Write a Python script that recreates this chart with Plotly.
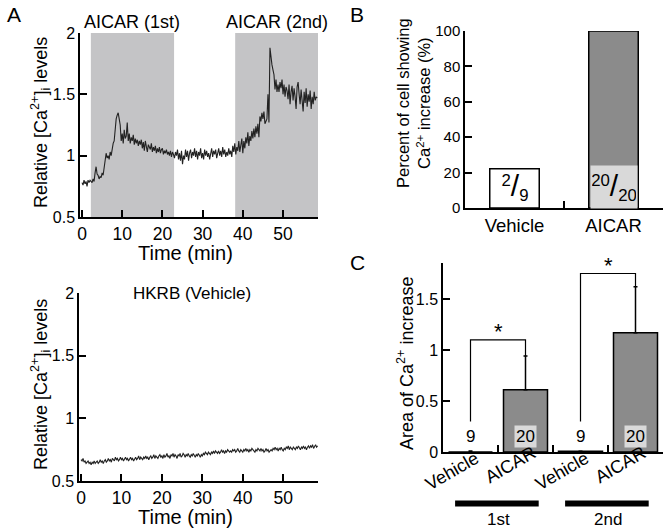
import plotly.graph_objects as go

# ---- data -----------------------------------------------------------------
SAMPLE_STEP = 0.25  # min between samples

ca_aicar = [
    0.78, 0.76, 0.80, 0.77, 0.79, 0.75, 0.80, 0.78, 0.80, 0.79, 0.78, 0.81,
    0.79, 0.86, 0.91, 0.85, 0.84, 0.81, 0.83, 0.82, 0.86, 0.84, 0.90, 0.95,
    1.02, 0.98, 1.00, 0.97, 1.03, 1.00, 1.06, 1.10, 1.12, 1.22, 1.30, 1.33,
    1.35, 1.30, 1.25, 1.12, 1.18, 1.10, 1.21, 1.14, 1.16, 1.27, 1.12, 1.18,
    1.10, 1.15, 1.12, 1.17, 1.09, 1.14, 1.10, 1.13, 1.08, 1.12, 1.09, 1.13,
    1.06, 1.11, 1.04, 1.12, 1.08, 1.03, 1.09, 1.06, 1.05, 1.10, 1.03, 1.07,
    1.04, 1.08, 1.02, 1.06, 1.03, 1.07, 1.02, 1.05, 1.06, 1.01, 1.04, 1.02,
    1.05, 1.01, 1.03, 1.00, 1.04, 0.99, 1.03, 1.01, 0.98, 1.03, 1.00, 1.05,
    0.97, 1.02, 0.96, 1.04, 0.93, 1.00, 0.97, 1.05, 0.99, 1.04, 0.96, 1.02,
    1.05, 0.98, 1.03, 1.00, 1.06, 0.99, 1.04, 0.97, 1.03, 1.00, 1.06, 0.98,
    1.02, 0.97, 1.05, 1.00, 1.04, 0.99, 1.02, 0.97, 1.03, 1.06, 0.99, 1.04,
    1.01, 1.05, 0.98, 1.02, 1.06, 1.00, 1.04, 0.99, 1.07, 1.01, 1.05, 0.99,
    1.03, 1.00, 1.06, 1.01, 1.04, 0.99, 1.08, 1.03, 1.10, 1.01, 1.07, 1.04,
    1.12, 1.03, 1.09, 1.14, 1.02, 1.12, 1.06, 1.15, 1.10, 1.19, 1.08, 1.16,
    1.12, 1.20, 1.14, 1.22, 1.15, 1.24, 1.18, 1.26, 1.15, 1.32, 1.28, 1.35,
    1.30, 1.36, 1.26, 1.28, 1.30, 1.50, 1.27, 1.88, 1.78, 1.74, 1.70, 1.66,
    1.54, 1.62, 1.52, 1.58, 1.52, 1.60, 1.55, 1.62, 1.50, 1.58, 1.48, 1.56,
    1.53, 1.46, 1.58, 1.42, 1.52, 1.57, 1.45, 1.55, 1.48, 1.38, 1.56, 1.60,
    1.50, 1.42, 1.54, 1.46, 1.36, 1.52, 1.43, 1.55, 1.40, 1.50, 1.44, 1.53,
    1.38, 1.48, 1.42, 1.52, 1.45, 1.48, 1.47,
]

ca_vehicle = [
    0.67, 0.66, 0.68, 0.65, 0.66, 0.64, 0.65, 0.66, 0.64, 0.65, 0.63, 0.65,
    0.64, 0.66, 0.64, 0.65, 0.66, 0.64, 0.65, 0.67, 0.65, 0.66, 0.64, 0.66,
    0.67, 0.65, 0.66, 0.68, 0.66, 0.67, 0.65, 0.68, 0.67, 0.66, 0.69, 0.67,
    0.68, 0.66, 0.67, 0.69, 0.67, 0.68, 0.66, 0.68, 0.69, 0.67, 0.68, 0.66,
    0.68, 0.69, 0.67, 0.68, 0.66, 0.68, 0.69, 0.67, 0.68, 0.70, 0.67, 0.69,
    0.68, 0.67, 0.69, 0.68, 0.70, 0.68, 0.69, 0.67, 0.69, 0.70, 0.68, 0.69,
    0.71, 0.68, 0.70, 0.69, 0.68, 0.70, 0.71, 0.69, 0.70, 0.68, 0.71, 0.69,
    0.70, 0.72, 0.69, 0.70, 0.68, 0.71, 0.70, 0.72, 0.69, 0.71, 0.70, 0.68,
    0.71, 0.70, 0.72, 0.69, 0.70, 0.72, 0.71, 0.69, 0.71, 0.70, 0.72, 0.70,
    0.69, 0.71, 0.70, 0.72, 0.70, 0.69, 0.71, 0.70, 0.72, 0.70, 0.69, 0.71,
    0.70, 0.72, 0.71, 0.73, 0.72, 0.71, 0.73, 0.72, 0.71, 0.73, 0.72, 0.74,
    0.72, 0.74, 0.73, 0.72, 0.74, 0.72, 0.73, 0.75, 0.73, 0.74, 0.72, 0.74,
    0.73, 0.75, 0.74, 0.73, 0.74, 0.73, 0.75, 0.74, 0.75, 0.73, 0.74, 0.76,
    0.74, 0.73, 0.75, 0.74, 0.73, 0.75, 0.74, 0.76, 0.74, 0.75, 0.73, 0.75,
    0.74, 0.76, 0.75, 0.74, 0.73, 0.75, 0.74, 0.76, 0.75, 0.74, 0.76, 0.74,
    0.75, 0.73, 0.74, 0.76, 0.74, 0.75, 0.73, 0.74, 0.75, 0.74, 0.76, 0.75,
    0.77, 0.75, 0.76, 0.74, 0.76, 0.75, 0.77, 0.75, 0.74, 0.76, 0.75, 0.77,
    0.76, 0.78, 0.75, 0.77, 0.76, 0.75, 0.77, 0.76, 0.75, 0.77, 0.76, 0.78,
    0.76, 0.75, 0.77, 0.76, 0.78, 0.76, 0.77, 0.75, 0.77, 0.78, 0.76, 0.78,
    0.77, 0.79, 0.76, 0.78, 0.79, 0.77, 0.78,
]

aicar_windows = [(2.2, 22.9), (38.1, 58.8)]
aicar_window_labels = ["AICAR (1st)", "AICAR (2nd)"]

resp_groups = ["Vehicle", "AICAR"]
resp_pct = [2 / 9 * 100, 100]
resp_num = ["2", "20"]
resp_den = ["9", "20"]

area_groups = ["Vehicle", "AICAR", "Vehicle", "AICAR"]
area_mean = [0.0, 0.61, 0.008, 1.17]
area_sem = [0.01, 0.33, 0.0, 0.45]
area_n = ["9", "20", "9", "20"]
periods = ["1st", "2nd"]
bracket_top = [1.10, 1.75]

t_aicar = [i * SAMPLE_STEP for i in range(len(ca_aicar))]
t_vehicle = [i * SAMPLE_STEP for i in range(len(ca_vehicle))]

# ---- style helpers --------------------------------------------------------
W, H = 665, 529
FONT = "Liberation Sans, Arial, sans-serif"
SHADE = "#c4c4c6"
BAR_GREY = "#8b8b8b"
BOX_GREY = "#d9d9d9"


def px(x):
    return x / W


def py(y):
    return 1 - y / H


def note(text, x, y, size=16, xref="paper", yref="paper", **kw):
    return dict(text=text, x=x, y=y, xref=xref, yref=yref, showarrow=False,
                xanchor="center", yanchor="middle", font=dict(size=size), **kw)


axis_style = dict(showline=True, linecolor="black", linewidth=1.5,
                  ticks="inside", ticklen=7, tickwidth=1.5, tickcolor="black",
                  showgrid=False, zeroline=False, automargin=False,
                  tickfont=dict(size=16, color="black"))
time_ticks = dict(tickvals=[0, 10, 20, 30, 40, 50], tickfont=dict(size=17.5))
ratio_ticks = dict(tickvals=[0.5, 1, 1.5, 2], ticktext=["0.5", "1", "1.5", "2"])

fig = go.Figure()

# A top
fig.add_trace(go.Scatter(x=t_aicar, y=ca_aicar, mode="lines",
                         line=dict(color="#222", width=1.1),
                         xaxis="x", yaxis="y"))
# A bottom
fig.add_trace(go.Scatter(x=t_vehicle, y=ca_vehicle, mode="lines",
                         line=dict(color="#222", width=1.1),
                         xaxis="x3", yaxis="y3"))
# B
fig.add_trace(go.Bar(x=resp_groups, y=resp_pct, width=0.5,
                     marker=dict(color=["white", BAR_GREY],
                                 line=dict(color="black", width=1.5)),
                     xaxis="x2", yaxis="y2"))
# C
fig.add_trace(go.Bar(x=list(range(len(area_mean))), y=area_mean, width=0.8,
                     marker=dict(color=BAR_GREY,
                                 line=dict(color="black", width=1.5)),
                     error_y=dict(type="data", symmetric=False, array=area_sem,
                                  arrayminus=[0] * len(area_sem),
                                  color="black", thickness=1.5, width=2),
                     xaxis="x4", yaxis="y4"))

shapes = []
annotations = []

for (a, b) in aicar_windows:
    shapes.append(dict(type="rect", xref="x", yref="y domain", x0=a, x1=b,
                       y0=0, y1=1, fillcolor=SHADE, line=dict(width=0),
                       layer="below"))
for lab, (a, b) in zip(aicar_window_labels, aicar_windows):
    annotations.append(note(lab, (a + b) / 2, py(22), size=18, xref="x"))

annotations.append(note("HKRB (Vehicle)", px(192), py(293), size=17))

# axis titles
ytitle_a = "Relative [Ca<sup>2+</sup>]<sub>i</sub> levels"
for yc in (123, 385):
    annotations.append(note(ytitle_a, px(40), py(yc), size=18, textangle=-90))
for yc in (253, 517):
    annotations.append(note("Time (min)", px(186), py(yc), size=20))
annotations.append(note("Percent of cell showing<br>Ca<sup>2+</sup> increase (%)",
                        px(414), py(103), size=16.5, textangle=-90))
annotations.append(note("Area of Ca<sup>2+</sup> increase", px(405), py(364),
                        size=18, textangle=-90))

# panel letters
for letter, (lx, ly) in zip("ABC", [(14, 14), (357, 14), (357, 262)]):
    annotations.append(note(letter, px(lx), py(ly), size=21))

# B fraction labels
for i in range(len(resp_groups)):
    frac = (f"<sup>{resp_num[i]}</sup>"
            f"<span style='font-size:30px'>/</span><sub>{resp_den[i]}</sub>")
    annotations.append(note(frac, resp_groups[i], 12, size=24,
                            xref="x2", yref="y2",
                            bgcolor=BOX_GREY if i == 1 else "rgba(0,0,0,0)",
                            width=44, height=40))

# C n labels, group labels, brackets
for i, n in enumerate(area_n):
    is_aicar = area_groups[i] == "AICAR"
    annotations.append(note(n, i, 0.15, size=17, xref="x4", yref="y4",
                            bgcolor=BOX_GREY if is_aicar else "rgba(0,0,0,0)",
                            borderpad=1))
    annotations.append(note(area_groups[i], i - (0.28 if is_aicar else 0.33),
                            py(465 if is_aicar else 471), xref="x4",
                            size=18, textangle=-30))

for k, period in enumerate(periods):
    v, a = 2 * k, 2 * k + 1
    top = bracket_top[k]
    shapes.append(dict(type="path", xref="x4", yref="y4",
                       path=f"M {v},0.3 L {v},{top} L {a},{top} L {a},{area_mean[a] + area_sem[a]}",
                       line=dict(color="black", width=1.2)))
    annotations.append(note("*", (v + a) / 2, top + 0.08, size=22,
                            xref="x4", yref="y4"))
    shapes.append(dict(type="line", xref="x4", yref="paper",
                       x0=v - 0.28, x1=a + 0.24, y0=py(503.5), y1=py(503.5),
                       line=dict(color="black", width=6)))
    annotations.append(note(period, (v + a) / 2, py(519), size=17, xref="x4"))

fig.update_layout(
    width=W, height=H, margin=dict(l=0, r=0, t=0, b=0),
    paper_bgcolor="white", plot_bgcolor="white", showlegend=False,
    font=dict(family=FONT, color="black"),
    xaxis=dict(axis_style, domain=[px(80), px(318)], range=[-0.5, 58.7],
               anchor="y", **time_ticks),
    yaxis=dict(axis_style, domain=[py(217), py(33)], range=[0.5, 2],
               anchor="x", **ratio_ticks),
    xaxis3=dict(axis_style, domain=[px(79), px(318)], range=[-0.5, 58.6],
                anchor="y3", **time_ticks),
    yaxis3=dict(axis_style, domain=[py(481), py(293)], range=[0.5, 2],
                anchor="x3", **ratio_ticks),
    xaxis2=dict(axis_style, domain=[px(465), px(663)], range=[-0.5, 1.5],
                type="category", tickson="boundaries", anchor="y2",
                tickfont=dict(size=18.5)),
    yaxis2=dict(axis_style, domain=[py(208), py(31)], range=[0, 100],
                tickvals=[0, 20, 40, 60, 80, 100], anchor="x2",
                tickfont=dict(size=15)),
    xaxis4=dict(axis_style, domain=[px(443), px(663)], range=[-0.5, 3.5],
                tickvals=[0.5, 1.5, 2.5, 3.5], showticklabels=False,
                anchor="y4"),
    yaxis4=dict(axis_style, domain=[py(452), py(263)], range=[0, 1.853],
                tickvals=[0, 0.5, 1, 1.5], ticktext=["0", "0.5", "1", "1.5"],
                anchor="x4"),
    shapes=shapes, annotations=annotations,
)

# drop the default page margin so the figure sits at the window's corner
fig.write_html("out.html", config={"displayModeBar": False},
               post_script="document.body.style.margin='0px';")
